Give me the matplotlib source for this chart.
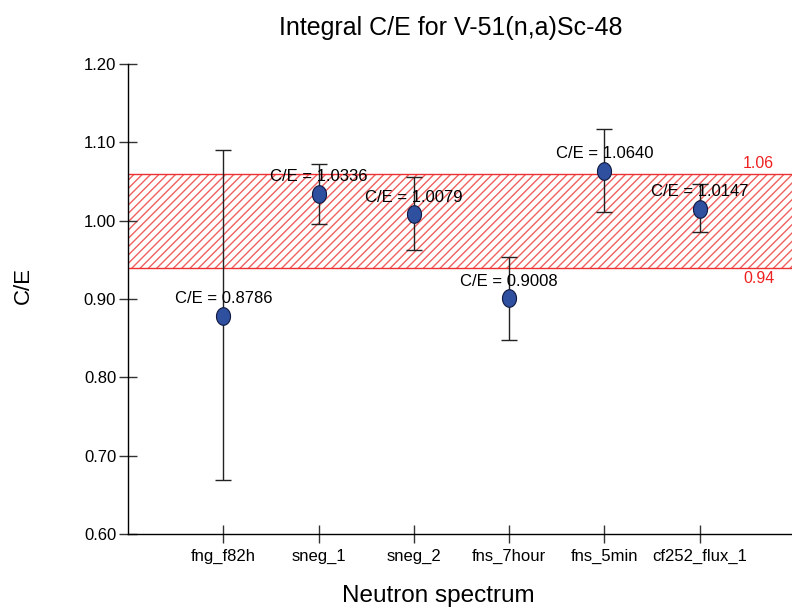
import numpy as np
import matplotlib
matplotlib.use("Agg")
import matplotlib.pyplot as plt

plt.rcParams['font.family'] = ['Liberation Sans', 'DejaVu Sans']
plt.rcParams['hatch.linewidth'] = 1.0

# data
spectra = ["fng_f82h", "sneg_1", "sneg_2", "fns_7hour", "fns_5min", "cf252_flux_1"]
ce = [0.8786, 1.0336, 1.0079, 0.9008, 1.0640, 1.0147]
err_hi = [1.090, 1.072, 1.056, 0.954, 1.117, 1.047]
err_lo = [0.669, 0.996, 0.962, 0.848, 1.011, 0.985]
band_lo, band_hi = 0.94, 1.06
yticks = [0.60, 0.70, 0.80, 0.90, 1.00, 1.10, 1.20]

x = np.arange(1, len(spectra) + 1)
ce = np.array(ce)
yerr = [ce - np.array(err_lo), np.array(err_hi) - ce]

fig = plt.figure(figsize=(7.92, 6.09), dpi=100)
ax = fig.add_axes([128/792, 1 - 534/609, 1 - 128/792, (534 - 64)/609])

# acceptance band
ax.axhspan(band_lo, band_hi, facecolor='none', edgecolor='#f06060', hatch='////', lw=0)
ax.axhline(band_hi, color='#ee3030', lw=1)
ax.axhline(band_lo, color='#ee3030', lw=1)
ax.text(6.62, band_hi + 0.004, "1.06", color='#ee2020', fontsize=11.5, ha='center', va='bottom')
ax.text(6.62, band_lo - 0.004, "0.94", color='#ee2020', fontsize=11.5, ha='center', va='top')

ax.errorbar(x, ce, yerr=yerr, fmt='none', ecolor='#222222', elinewidth=1,
            capsize=6, capthick=1, zorder=3)

# slightly tall ellipse marker
t = np.linspace(0, 2 * np.pi, 60)
ell = np.column_stack([0.8 * np.cos(t), np.sin(t)])
ax.scatter(x, ce, marker=ell, s=160, facecolor='#2f4f9f', edgecolor='#101840',
           linewidths=0.8, zorder=4)

for xi, v in zip(x, ce):
    ax.annotate(f"C/E = {v:.4f}", (xi, v), xytext=(0, 12.5), textcoords='offset points',
                ha='center', va='center', fontsize=12, zorder=5)

ax.set_xlim(0, 6.97)
ax.set_ylim(0.60, 1.20)
ax.set_xticks(x)
ax.set_xticklabels(spectra)
ax.set_yticks(yticks)
ax.set_yticklabels([f"{v:.2f}" for v in yticks])
ax.tick_params(direction='inout', length=13, width=1, color='#333333', labelsize=12, pad=2)
ax.tick_params(axis='x', pad=4)

for s in ['top', 'right']:
    ax.spines[s].set_visible(False)
for s in ['left', 'bottom']:
    ax.spines[s].set_color('black')
    ax.spines[s].set_linewidth(1)

fig.text(451/792, 1 - 28/609, "Integral C/E for V-51(n,a)Sc-48", fontsize=18,
         ha='center', va='center')
fig.text(438/792, 1 - 596/609, "Neutron spectrum", fontsize=17.5, ha='center', va='center')
fig.text(23/792, 1 - 285/609, "C/E", fontsize=16, ha='center', va='center', rotation=90)

fig.savefig("out.png", dpi=100)
